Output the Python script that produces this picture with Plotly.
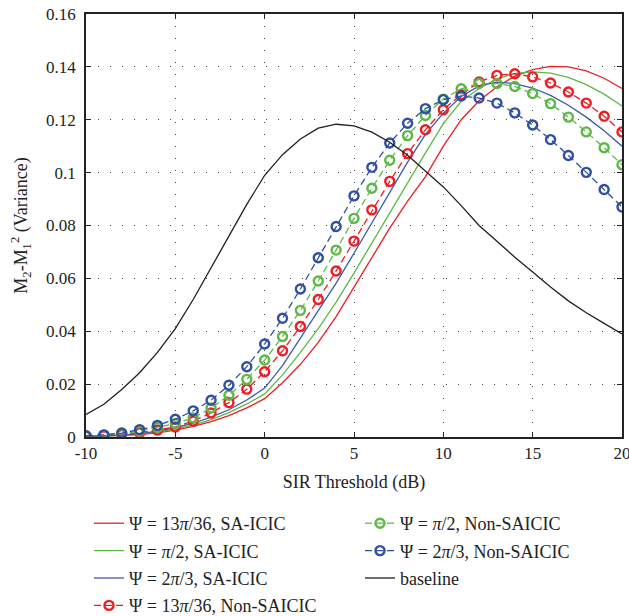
import plotly.graph_objects as go

sir_db = list(range(-10, 21))

sa_13pi36 = [0.0001, 0.0003, 0.0005, 0.0009, 0.0016, 0.0026, 0.0040, 0.0058, 0.0081, 0.0110,
             0.0145, 0.0205, 0.0275, 0.0358, 0.0455, 0.0565, 0.0675, 0.0790, 0.0892, 0.0985,
             0.1100, 0.1200, 0.1272, 0.1325, 0.1365, 0.1390, 0.1402, 0.1400, 0.1385, 0.1357, 0.1318]
sa_pi2 = [0.0002, 0.0003, 0.0006, 0.0011, 0.0019, 0.0030, 0.0045, 0.0066, 0.0092, 0.0125,
          0.0163, 0.0235, 0.0320, 0.0410, 0.0510, 0.0620, 0.0735, 0.0850, 0.0960, 0.1075,
          0.1185, 0.1270, 0.1318, 0.1355, 0.1375, 0.1381, 0.1376, 0.1360, 0.1333, 0.1297, 0.1252]
sa_2pi3 = [0.0002, 0.0004, 0.0007, 0.0013, 0.0022, 0.0035, 0.0052, 0.0075, 0.0103, 0.0140,
           0.0185, 0.0270, 0.0375, 0.0478, 0.0582, 0.0695, 0.0810, 0.0925, 0.1040, 0.1145,
           0.1225, 0.1288, 0.1328, 0.1342, 0.1337, 0.1320, 0.1292, 0.1255, 0.1210, 0.1158, 0.1100]
non_13pi36 = [0.0003, 0.0005, 0.0009, 0.0016, 0.0026, 0.0038, 0.0060, 0.0091, 0.0130, 0.0181,
              0.0247, 0.0326, 0.0418, 0.0520, 0.0628, 0.0741, 0.0859, 0.0967, 0.1072, 0.1162,
              0.1238, 0.1295, 0.1343, 0.1368, 0.1374, 0.1362, 0.1339, 0.1305, 0.1263, 0.1213, 0.1154]
non_pi2 = [0.0004, 0.0007, 0.0012, 0.0022, 0.0036, 0.0051, 0.0072, 0.0110, 0.0158, 0.0218,
           0.0291, 0.0380, 0.0479, 0.0590, 0.0707, 0.0827, 0.0941, 0.1047, 0.1140, 0.1216,
           0.1278, 0.1317, 0.1337, 0.1337, 0.1326, 0.1299, 0.1261, 0.1210, 0.1154, 0.1094, 0.1030]
non_2pi3 = [0.0005, 0.0008, 0.0015, 0.0028, 0.0044, 0.0067, 0.0099, 0.0139, 0.0196, 0.0266,
            0.0352, 0.0449, 0.0560, 0.0678, 0.0796, 0.0912, 0.1020, 0.1112, 0.1187, 0.1242,
            0.1276, 0.1290, 0.1282, 0.1263, 0.1226, 0.1180, 0.1125, 0.1065, 0.1001, 0.0936, 0.0870]
baseline = [0.0085, 0.0124, 0.0180, 0.0243, 0.0320, 0.0410, 0.0520, 0.0640, 0.0765, 0.0880,
            0.0990, 0.1068, 0.1127, 0.1168, 0.1183, 0.1177, 0.1153, 0.1115, 0.1066, 0.1006,
            0.0946, 0.0875, 0.0800, 0.0740, 0.0680, 0.0624, 0.0567, 0.0515, 0.0470, 0.0430, 0.0390]

y_ticks = [0, 0.02, 0.04, 0.06, 0.08, 0.1, 0.12, 0.14, 0.16]
y_tick_text = ["0", "0.02", "0.04", "0.06", "0.08", "0.1", "0.12", "0.14", "0.16"]
x_ticks = [-10, -5, 0, 5, 10, 15, 20]
x_tick_text = ["-10", "-5", "0", "5", "10", "15", "20"]

RED = "#EE1D25"
GREEN = "#5CB946"
BLUE = "#2F4FA2"
BLUE_S = "#3A5BAE"
BLACK = "#231F20"
FONT = "Liberation Serif"

fig = go.Figure()

solid_specs = [
    (sa_13pi36, RED, "Ψ = 13<i>π</i>/36, SA-ICIC"),
    (sa_pi2, GREEN, "Ψ = <i>π</i>/2, SA-ICIC"),
    (sa_2pi3, BLUE_S, "Ψ = 2<i>π</i>/3, SA-ICIC"),
]
for i, (ys, col, name) in enumerate(solid_specs):
    fig.add_trace(go.Scatter(x=sir_db, y=ys, mode="lines", name=name,
                             line=dict(color=col, width=1.3), legend="legend",
                             legendgroup="g%d" % i))

dashed_specs = [
    (non_13pi36, RED, "Ψ = 13<i>π</i>/36, Non-SAICIC", "legend", "g3"),
    (non_pi2, GREEN, "Ψ = <i>π</i>/2, Non-SAICIC", "legend2", "h0"),
    (non_2pi3, BLUE, "Ψ = 2<i>π</i>/3, Non-SAICIC", "legend2", "h1"),
]
for ys, col, name, leg, grp in dashed_specs:
    fig.add_trace(go.Scatter(x=sir_db, y=ys, mode="lines+markers", name=name,
                             line=dict(color=col, width=1.3, dash="7px,4px"),
                             marker=dict(symbol="circle-open", size=9, color=col,
                                         line=dict(width=2.4, color=col)),
                             legend=leg, legendgroup=grp))

fig.add_trace(go.Scatter(x=sir_db, y=baseline, mode="lines", name="baseline",
                         line=dict(color=BLACK, width=1.3),
                         legend="legend2", legendgroup="h2"))

FIG_W, FIG_H = 629, 616
W0, W1 = 86, 622
H0, H1 = 14, 437

axis_common = dict(
    showline=True, linecolor="#222", linewidth=1.5, mirror="ticks",
    ticks="inside", ticklen=5, tickcolor="#222", tickwidth=1,
    showgrid=True, gridcolor="#444", gridwidth=1, griddash="1px,11px",
    zeroline=False, automargin=False, ticklabeloverflow="allow",
    tickfont=dict(family=FONT, size=17, color="#222"),
)


def px_x(p):
    return (p - W0) / (W1 - W0)


def px_y(p):
    return (H1 - p) / (H1 - H0)


fig.update_layout(
    width=FIG_W, height=FIG_H,
    margin=dict(l=W0, r=FIG_W - W1, t=H0, b=FIG_H - H1, autoexpand=False),
    paper_bgcolor="white", plot_bgcolor="white",
    font=dict(family=FONT, size=17, color="#222"),
    showlegend=True, hovermode=False,
    xaxis=dict(range=[-10, 20], tickvals=x_ticks, ticktext=x_tick_text,
               title=dict(text="SIR Threshold (dB)", font=dict(family=FONT, size=18),
                          standoff=13),
               **axis_common),
    yaxis=dict(range=[0, 0.16], tickvals=y_ticks, ticktext=y_tick_text,
               ticklabelstandoff=5,
               title=dict(text="M<sub>2</sub>-M<sub>1</sub><sup>2</sup> (Variance)",
                          font=dict(family=FONT, size=18), standoff=14),
               **axis_common),
    legend=dict(x=px_x(89), y=px_y(505),
                xanchor="left", yanchor="top", bgcolor="rgba(0,0,0,0)",
                font=dict(family=FONT, size=18, color="#222"), tracegroupgap=1,
                itemwidth=30),
    legend2=dict(x=px_x(360), y=px_y(505),
                 xanchor="left", yanchor="top", bgcolor="rgba(0,0,0,0)",
                 font=dict(family=FONT, size=18, color="#222"), tracegroupgap=1,
                 itemwidth=30),
)

fig.write_html(
    "out.html",
    config={"displayModeBar": False},
    post_script="document.body.style.margin='0';document.body.style.overflow='hidden';",
)
